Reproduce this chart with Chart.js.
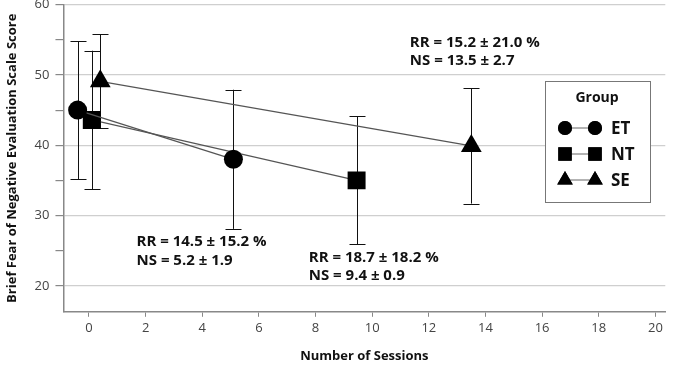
<!DOCTYPE html>
<html>
<head>
<meta charset="utf-8">
<script src="https://cdn.jsdelivr.net/npm/chart.js@4.4.1/dist/chart.umd.min.js"></script>
<style>
  html, body { margin: 0; padding: 0; background: #fff; overflow: hidden; }
  #wrap { position: relative; width: 678px; height: 376px; top: -8px; }
</style>
</head>
<body>
<div id="wrap"><canvas id="chart"></canvas></div>
<script>
// values
const groups = ['ET', 'NT', 'SE'];
const etSessions = [-0.4, 5.1];
const etScores = [45, 38];
const etErr = [9.8, 9.9];
const ntSessions = [0.1, 9.45];
const ntScores = [43.6, 35];
const ntErr = [9.85, 9.1];
const seSessions = [0.4, 13.5];
const seScores = [49.1, 39.9];
const seErr = [6.7, 8.2];
const xTicks = [0, 2, 4, 6, 8, 10, 12, 14, 16, 18, 20];
const yTicks = [20, 25, 30, 35, 40, 45, 50, 55, 60];
const notes = [
    ['RR = 15.2 \u00b1 21.0 %', 'NS = 13.5 \u00b1 2.7'],
    ['RR = 14.5 \u00b1 15.2 %', 'NS = 5.2 \u00b1 1.9'],
    ['RR = 18.7 \u00b1 18.2 %', 'NS = 9.4 \u00b1 0.9']
];

Chart.defaults.font.family = "'Open Sans', sans-serif";
Chart.defaults.color = '#444';

const markers = { ET: 'circle', NT: 'rect', SE: 'triangle' };
const radii = { ET: 9.5, NT: 12.7, SE: 12 };

function pts(xs, ys) {
    return xs.map((x, i) => ({ x: x, y: ys[i] }));
}

function makeSet(name, xs, ys, err) {
    return {
        label: name,
        data: pts(xs, ys),
        errors: err,
        showLine: true,
        borderColor: '#555',
        borderWidth: 1.2,
        pointStyle: markers[name],
        pointRadius: radii[name],
        pointHoverRadius: radii[name],
        pointBackgroundColor: '#000',
        pointBorderColor: '#000',
        pointBorderWidth: 0
    };
}

const errorBars = {
    id: 'errorBars',
    beforeDatasetsDraw(chart) {
        const ctx = chart.ctx;
        const ys = chart.scales.y;
        ctx.save();
        ctx.strokeStyle = '#111';
        ctx.lineWidth = 1;
        chart.data.datasets.forEach((ds, di) => {
            const meta = chart.getDatasetMeta(di);
            meta.data.forEach((pt, i) => {
                const v = ds.data[i].y;
                const top = ys.getPixelForValue(v + ds.errors[i]);
                const bot = ys.getPixelForValue(v - ds.errors[i]);
                const x = Math.round(pt.x) + 0.5;
                ctx.beginPath();
                ctx.moveTo(x, top); ctx.lineTo(x, bot);
                ctx.moveTo(x - 8, Math.round(top) + 0.5); ctx.lineTo(x + 8, Math.round(top) + 0.5);
                ctx.moveTo(x - 8, Math.round(bot) + 0.5); ctx.lineTo(x + 8, Math.round(bot) + 0.5);
                ctx.stroke();
            });
        });
        ctx.restore();
    }
};

const extras = {
    id: 'extras',
    afterDraw(chart) {
        const ctx = chart.ctx;
        const xs = chart.scales.x, ys = chart.scales.y;
        // annotation anchors (left edge, first line) in data units
        const anchors = [[11.33, 54.6], [1.68, 26.2], [7.76, 24.0]];
        ctx.save();
        ctx.fillStyle = '#111';
        ctx.font = "bold 15px 'Open Sans', sans-serif";
        ctx.textBaseline = 'middle';
        ctx.textAlign = 'left';
        notes.forEach((lines, i) => {
            const px = xs.getPixelForValue(anchors[i][0]);
            const py = ys.getPixelForValue(anchors[i][1]);
            lines.forEach((t, j) => ctx.fillText(t, px, py + j * 18.5));
        });

        // legend box (canvas is shifted 8px up)
        const off = 8;
        const bx = 545.5, by = 81.5 + off, bw = 105, bh = 121;
        ctx.fillStyle = '#fff';
        ctx.fillRect(bx, by, bw, bh);
        ctx.strokeStyle = '#777';
        ctx.lineWidth = 1;
        ctx.strokeRect(bx, by, bw, bh);
        ctx.fillStyle = '#111';
        ctx.textAlign = 'center';
        ctx.font = "bold 14px 'Open Sans', sans-serif";
        ctx.fillText('Group', 597, 98 + off);
        ctx.textAlign = 'left';
        ctx.font = "bold 17px 'Open Sans', sans-serif";
        groups.forEach((g, i) => {
            const y = 128 + off + i * 26;
            ctx.strokeStyle = '#666';
            ctx.beginPath();
            ctx.moveTo(565, y); ctx.lineTo(595, y);
            ctx.stroke();
            const r = { ET: 7, NT: 9.5, SE: 9 }[g];
            [565, 595].forEach(cx => {
                Chart.helpers.drawPoint(ctx, { pointStyle: markers[g], radius: r, borderWidth: 0 }, cx, y);
                ctx.fillStyle = '#000';
                ctx.fill();
            });
            ctx.fillStyle = '#111';
            ctx.fillText(g, 611, y + 1);
        });
        ctx.restore();
    }
};

new Chart(document.getElementById('chart'), {
    type: 'scatter',
    data: {
        datasets: [
            makeSet('ET', etSessions, etScores, etErr),
            makeSet('NT', ntSessions, ntScores, ntErr),
            makeSet('SE', seSessions, seScores, seErr)
        ]
    },
    options: {
        responsive: true,
        maintainAspectRatio: false,
        animation: false,
        layout: { padding: { top: 4, right: 3, left: 0, bottom: 2 } },
        plugins: {
            legend: { display: false },
            tooltip: { enabled: false }
        },
        scales: {
            x: {
                type: 'linear',
                min: -0.9,
                max: 20.35,
                afterBuildTicks(s) { s.ticks = xTicks.map(v => ({ value: v })); },
                grid: { drawOnChartArea: false, tickLength: 5, color: '#888' },
                border: { color: '#888', width: 1.5 },
                ticks: { font: { size: 13 }, padding: 4, maxRotation: 0 },
                title: {
                    display: true,
                    text: 'Number of Sessions',
                    color: '#111',
                    font: { size: 13, weight: 'bold' },
                    padding: { top: 8, bottom: 2 }
                }
            },
            y: {
                min: 16.3,
                max: 60,
                afterBuildTicks(s) { s.ticks = yTicks.map(v => ({ value: v })); },
                afterFit(s) { s.paddingTop = 0; },
                grid: {
                    color: c => (c.tick && c.tick.value % 10 === 0) ? '#cfcfcf' : 'rgba(0,0,0,0)',
                    tickColor: '#888',
                    tickLength: 8,
                    lineWidth: 1.2
                },
                border: { color: '#888', width: 1.5 },
                ticks: {
                    font: { size: 13 },
                    padding: 6,
                    callback: v => (v % 10 === 0 ? v : '')
                },
                title: {
                    display: true,
                    text: 'Brief Fear of Negative Evaluation Scale Score',
                    color: '#111',
                    font: { size: 13, weight: 'bold' },
                    padding: { top: 4, bottom: 9 }
                }
            }
        }
    },
    plugins: [errorBars, extras]
});
</script>
</body>
</html>
